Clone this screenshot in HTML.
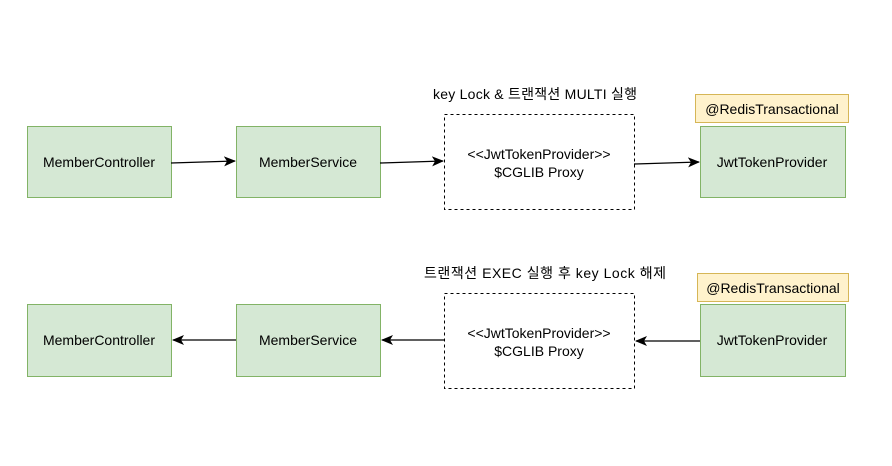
<!DOCTYPE html>
<html><head><meta charset="utf-8"><style>
body{margin:0;background:#fff}
svg text{font-family:"Liberation Sans","Noto Sans CJK KR",sans-serif;font-size:14px;fill:#000}
</style></head><body>
<svg width="892" height="461" xmlns="http://www.w3.org/2000/svg">
<defs><marker id="a" markerWidth="12" markerHeight="12" refX="11" refY="6" orient="auto" markerUnits="userSpaceOnUse"><path d="M0,1 L12,6 L0,11 L3,6z" fill="#000"/></marker></defs>
<g stroke="#82b366" fill="#d5e8d4">
<rect x="27.5" y="126.5" width="144" height="71"/>
<rect x="236.5" y="126.5" width="144" height="71"/>
<rect x="700.5" y="126.5" width="145" height="71"/>
<rect x="27.5" y="304.5" width="144" height="72"/>
<rect x="236.5" y="304.5" width="144" height="72"/>
<rect x="700.5" y="304.5" width="145" height="72"/>
</g>
<g stroke="#d6b656" fill="#fff2cc">
<rect x="695.5" y="94.5" width="153" height="28"/>
<rect x="697.5" y="273.5" width="151" height="28"/>
</g>
<g stroke="#000" fill="none" stroke-dasharray="3,3">
<rect x="444.5" y="114.5" width="190" height="95"/>
<rect x="444.5" y="293.5" width="190" height="95"/>
</g>
<g stroke="#000" stroke-width="1.3" marker-end="url(#a)">
<line x1="171" y1="163" x2="235" y2="161"/>
<line x1="380" y1="163" x2="443" y2="161"/>
<line x1="634" y1="164" x2="699" y2="162"/>
<line x1="236" y1="340" x2="173" y2="340"/>
<line x1="444" y1="340" x2="382" y2="340"/>
<line x1="700" y1="341" x2="636" y2="341"/>
</g>
<g text-anchor="middle">
<text x="99" y="167">MemberController</text>
<text x="308" y="167">MemberService</text>
<text x="772" y="167">JwtTokenProvider</text>
<text x="99" y="345">MemberController</text>
<text x="308" y="345">MemberService</text>
<text x="772" y="345">JwtTokenProvider</text>
<text x="539" y="159">&lt;&lt;JwtTokenProvider&gt;&gt;</text>
<text x="539" y="177">$CGLIB Proxy</text>
<text x="539" y="338">&lt;&lt;JwtTokenProvider&gt;&gt;</text>
<text x="539" y="356">$CGLIB Proxy</text>
<text x="772" y="114">@RedisTransactional</text>
<text x="773" y="293">@RedisTransactional</text>
<text x="535" y="99" textLength="204">key Lock &amp; 트랜잭션 MULTI 실행</text>
<text x="545" y="278" textLength="242">트랜잭션 EXEC 실행 후 key Lock 해제</text>
</g>
</svg>
</body></html>
